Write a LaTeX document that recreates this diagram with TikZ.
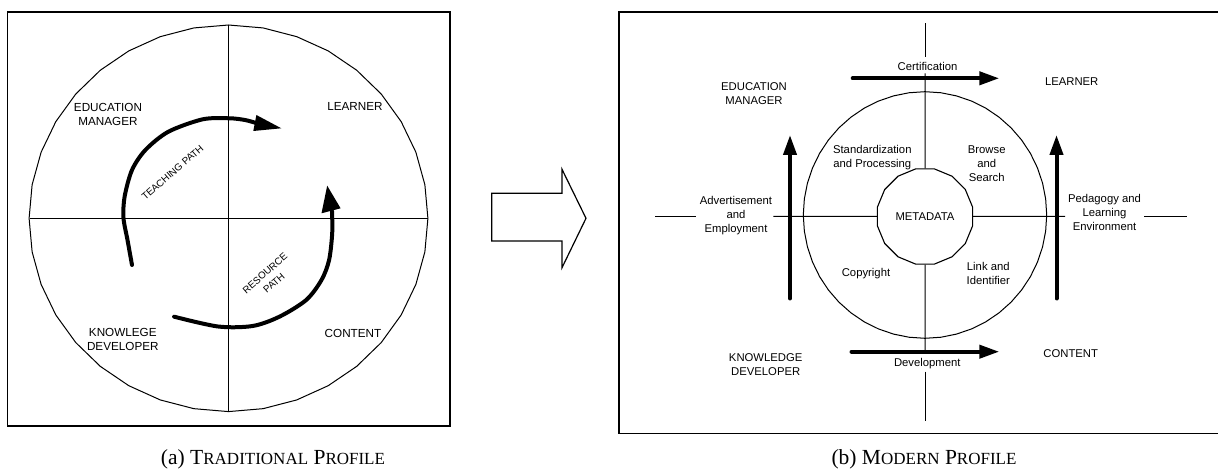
\documentclass[tikz,border=0pt]{standalone}
\usepackage{fontspec}
\setmainfont{Liberation Sans}
\newfontfamily\capfont{Liberation Serif}
\usetikzlibrary{arrows.meta,shapes.geometric}
\newcommand{\fsc}[1]{{\fontsize{17}{17}\selectfont #1}}
\begin{document}
\begin{tikzpicture}[x=1pt,y=-1pt,
  lbl/.style={font=\fontsize{11.3}{14}\selectfont, align=center, inner sep=0pt},
  lbla/.style={font=\fontsize{11.7}{14}\selectfont, align=center, inner sep=0pt},
  ln/.style={line width=1pt},
  pathline/.style={line width=4pt, line cap=round, line join=round},
  bigarr/.style={line width=4pt, line cap=round, -{Triangle[length=20pt,width=13pt]}},
  capt/.style={font=\capfont\fontsize{21.5}{23}\selectfont, inner sep=0pt},
  rot/.style={rotate=41, inner sep=0pt, font=\fontsize{9.8}{12}\selectfont}
]
\useasboundingbox (0,0) rectangle (1218,470);

% ---------------- (a) traditional profile ----------------
\draw[line width=1.3pt] (7.7,12) rectangle (450,426);
\draw[ln] plot[samples=37,domain=0:360,variable=\t] ({228.5+199.4*cos(\t)},{218.3+193.3*sin(\t)}) -- cycle;
\coordinate (avt) at (228.5,25);
\coordinate (avb) at (228.5,411.6);
\coordinate (ahl) at (29.5,218.3);
\coordinate (ahr) at (427.9,218.3);
\draw[ln] (avt) -- (avb);
\draw[ln] (ahl) -- (ahr);

\node[lbla] (aem) at (108,114.7) {EDUCATION\\MANAGER};
\node[lbla] (alr) at (355,106) {LEARNER};
\node[lbla] (akd) at (122.8,339) {KNOWLEGE\\DEVELOPER};
\node[lbla] (act) at (353,333.7) {CONTENT};

% teaching path
\draw[pathline] plot[smooth] coordinates {(132,265) (127.5,240) (123.5,218) (124.6,196.7) (132,170) (145.4,150) (168.4,131.7) (202.8,119.3) (229.6,118.3) (245,120) (256,123)};
\fill (256.4,115) -- (281.3,128.3) -- (253.3,131) -- cycle;
% resource path
\draw[pathline] plot[smooth] coordinates {(174.1,316.7) (218.1,326.5) (252.6,326) (279.4,316.7) (306.2,300) (321.5,280) (329.1,260) (332.2,233.3) (332,211)};
\fill (321.5,213.3) -- (327.2,185.7) -- (340.6,208.3) -- cycle;

\node[rot] (tp) at (172.5,172.5) {TEACHING PATH};
\node[rot] (rp1) at (265,273.3) {RESOURCE};
\node[rot] (rp2) at (274,283) {PATH};

\node[capt] (capa) at (273,459) {(a) T\fsc{RADITIONAL} P\fsc{ROFILE}};

% ---------------- hollow arrow ----------------
\draw[line width=1.2pt, line join=miter] (491.7,193.3) -- (562,193.3) -- (562,169.3) -- (586,218.3) -- (562,267.7) -- (562,241) -- (491.7,241) -- cycle;

% ---------------- (b) modern profile ----------------
\draw[line width=1.5pt] (619,12) rectangle (1228,433.5);
\draw[ln] plot[samples=49,domain=0:360,variable=\t] ({925+121.7*cos(\t)},{215+123.3*sin(\t)}) -- cycle;
\node[regular polygon, regular polygon sides=16, minimum size=97pt, draw, line width=1.1pt, inner sep=0pt,
      font=\fontsize{11.3}{14}\selectfont] (meta) at (925,216.5) {METADATA};

\coordinate (t1) at (925,23.3);
\coordinate (t2) at (925,56.7);
\coordinate (t3) at (925,73.3);
\coordinate (b1) at (925,371.7);
\coordinate (b2) at (925,420.5);
\coordinate (b0) at (925,352);
\draw[ln] (t1) -- (t2);
\draw[ln] (t3) -- (meta.north);
\draw[ln] (meta.south) -- (b0);
\draw[ln] (b1) -- (b2);

\coordinate (l1) at (655,216.3);
\coordinate (l2) at (696,216.3);
\coordinate (l3) at (773.4,216.3);
\coordinate (r1) at (1065,216.3);
\coordinate (r2) at (1144,216.3);
\coordinate (r3) at (1186.5,216.3);
\draw[ln] (l1) -- (l2);
\draw[ln] (l3) -- (meta.west);
\draw[ln] (meta.east) -- (r1);
\draw[ln] (r2) -- (r3);

% thick arrows
\coordinate (cs) at (852.7,78.3);
\coordinate (ce) at (999.3,78.3);
\coordinate (ds) at (851.5,351.7);
\coordinate (de) at (999.3,351.7);
\coordinate (ls) at (790,298.5);
\coordinate (le) at (790,135);
\coordinate (rs) at (1056.5,298.5);
\coordinate (re) at (1056.5,135);
\draw[bigarr] (cs) -- (ce);
\draw[bigarr] (ds) -- (de);
\draw[bigarr] (ls) -- (le);
\draw[bigarr] (rs) -- (re);

\node[lbl] (cert) at (927.5,66) {Certification};
\node[lbl] (blr) at (1071.7,82) {LEARNER};
\node[lbl] (bem) at (754,93.5) {EDUCATION\\MANAGER};
\node[lbl] (std) at (872.3,157.2) {Standardization\\and Processing};
\node[lbl] (brw) at (986.7,164) {Browse\\and\\Search};
\node[lbl] (adv) at (736,216) {Advertisement\\and\\Employment};
\node[lbl] (ped) at (1104.5,212) {Pedagogy and\\Learning\\Environment};
\node[lbl] (cpy) at (866,274) {Copyright};
\node[lbl] (lnk) at (988.3,273) {Link and\\Identifier};
\node[lbl] (bkd) at (765.7,364.7) {KNOWLEDGE\\DEVELOPER};
\node[lbl] (bct) at (1070.7,354) {CONTENT};
\node[lbl] (dev) at (927.3,364) {Development};

\node[capt] (capb) at (924,459) {(b) M\fsc{ODERN} P\fsc{ROFILE}};
\end{tikzpicture}
\end{document}
